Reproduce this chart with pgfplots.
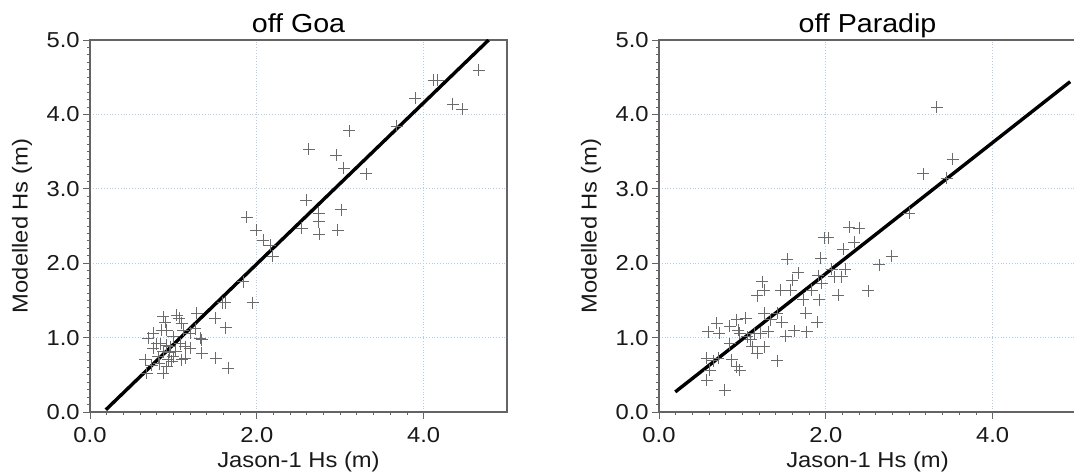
\documentclass[border=0pt]{standalone}
\usepackage{pgfplots}
\pgfplotsset{compat=1.18}
\usepackage{fontspec}
\setmainfont{Liberation Sans}[FakeStretch=1.1]
\definecolor{gridblue}{RGB}{175,205,235}
\definecolor{framegray}{RGB}{100,100,100}
\definecolor{txt}{RGB}{25,25,25}
\pgfplotsset{
  every axis title shift=0pt,
  hsplot/.style={
    scale only axis, width=208.5pt, height=186pt,
    xmin=0, xmax=5, ymin=0, ymax=5,
    xtick={0,2,4}, ytick={0,1,2,3,4,5},
    minor x tick num=9, minor y tick num=9,
    tick align=outside, tick pos=left,
    major tick length=3.5pt, minor tick length=1.6pt,
    every tick/.style={framegray, line width=0.4pt},
    axis line style={framegray, line width=0.6pt},
    xmajorgrids, ymajorgrids,
    major grid style={gridblue, densely dotted, line width=0.5pt},
    /pgf/number format/.cd, fixed, fixed zerofill, precision=1, assume math mode=true,
    /pgfplots/.cd,
    tick label style={font=\fontsize{10.8}{12}\selectfont, text=txt},
    label style={font=\fontsize{10.8}{12}\selectfont, text=txt},
    yticklabel style={anchor=east, inner sep=0pt, xshift=-1.5pt},
    xticklabel style={anchor=north, inner sep=0pt, yshift=-4pt},
    title style={font=\fontsize{13}{15}\selectfont, text=black,
      at={(axis description cs:0.5,1.0253)}, anchor=base, yshift=-1.2pt},
    xlabel style={at={(axis description cs:0.5,-0.1505)}, anchor=base},
    ylabel style={at={(axis description cs:-0.163,0.5)}, anchor=center},
    xlabel={Jason-1 Hs (m)}, ylabel={Modelled Hs (m)},
  },
  pts/.style={only marks, mark=+, mark size=3pt, draw=black!58, line width=0.45pt},
  fit/.style={black, line width=1.7pt, no marks},
}
\pgfplotstableread{
x y
4.66 4.59
4.12 4.46
4.17 4.46
3.90 4.22
4.35 4.14
4.46 4.07
3.68 3.84
3.11 3.78
2.62 3.53
2.95 3.45
3.04 3.28
3.31 3.20
2.59 2.85
3.01 2.72
2.74 2.67
2.74 2.56
2.54 2.47
2.75 2.39
2.97 2.44
1.88 2.62
1.99 2.44
2.08 2.31
2.16 2.24
2.19 2.09
1.84 1.75
1.95 1.47
1.62 1.47
1.59 1.47
1.63 1.13
1.50 1.26
1.66 0.59
1.51 0.72
1.34 0.79
1.28 1.33
1.32 0.99
1.34 0.97
0.70 0.99
0.76 0.86
0.66 0.70
0.68 0.52
0.74 0.63
0.88 1.28
0.90 1.21
0.86 1.10
0.92 1.10
0.80 0.92
0.84 0.92
0.88 0.81
0.82 0.74
0.88 0.52
0.92 0.61
0.96 0.88
1.00 0.74
1.04 1.30
1.07 1.26
1.10 1.19
1.12 1.10
1.08 0.92
1.14 0.88
1.10 0.70
1.14 0.72
1.20 1.06
1.26 1.12
1.20 0.86
1.00 1.01
0.94 0.70
0.98 0.68
0.76 1.06
0.92 0.90
0.83 0.65
0.95 0.80
1.03 0.82
}\goa
\pgfplotstableread{
x y
3.33 4.10
3.52 3.40
3.17 3.20
3.45 3.14
3.00 2.67
2.79 2.09
2.64 1.98
2.51 1.63
2.28 2.48
2.40 2.47
2.34 2.28
2.21 2.19
2.23 1.92
2.19 1.82
2.15 1.57
1.98 2.34
2.03 2.34
1.94 2.07
2.07 1.92
2.10 1.82
1.91 1.83
1.95 1.73
1.92 1.51
1.90 1.21
1.76 1.33
1.73 1.51
1.77 1.08
1.62 1.09
1.52 1.02
1.47 1.21
1.54 2.05
1.67 1.87
1.58 1.64
1.46 1.64
1.42 0.69
1.24 1.75
1.26 1.64
1.18 1.56
1.26 1.33
1.31 1.08
1.26 0.88
1.18 0.79
1.12 0.88
1.14 1.06
1.04 1.26
0.93 1.24
0.95 1.10
0.97 1.06
0.85 0.92
0.87 0.70
0.93 0.61
0.97 0.56
0.85 1.15
0.69 1.19
0.72 1.06
0.59 1.08
0.57 0.72
0.65 0.69
0.61 0.56
0.57 0.43
0.79 0.29
0.71 0.72
1.10 0.97
1.22 1.06
1.34 1.24
1.42 1.33
1.60 1.77
1.83 1.64
1.06 1.01
}\paradip
\begin{document}
\begin{tikzpicture}
\path[use as bounding box] (0,0) rectangle (537pt,237.5pt);
\clip (0,0) rectangle (537pt,237.5pt);
\begin{axis}[hsplot, at={(45pt,31.5pt)}, anchor=south west, title={off Goa}]
  \addplot[pts] table {\goa};
  \addplot[fit] coordinates {(0.19,0.03) (4.78,5.0)};
\end{axis}
\begin{axis}[hsplot, at={(329.5pt,31.5pt)}, anchor=south west, title={off Paradip}]
  \addplot[pts] table {\paradip};
  \addplot[fit] coordinates {(0.195,0.27) (4.93,4.44)};
\end{axis}
\end{tikzpicture}
\end{document}
